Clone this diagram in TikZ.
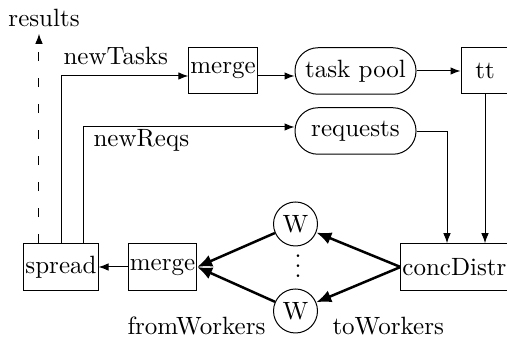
\documentclass[tikz,border=0pt]{standalone}
\usetikzlibrary{arrows.meta}
\begin{document}
\begin{tikzpicture}[x=0.4pt,y=-0.4pt,
  box/.style={draw,rectangle,minimum height=18.6pt,inner xsep=0.6pt,inner ysep=0pt},
  store/.style={draw,rectangle,rounded corners=9.2pt,minimum width=48.4pt,minimum height=18.6pt},
  worker/.style={draw,circle,minimum size=17.6pt,inner sep=0pt},
  lbl/.style={anchor=base west,inner sep=0pt},
  flow/.style={-{Latex[length=4pt,width=3pt]}},
  wflow/.style={line width=1pt,-{Latex[length=6pt,width=5pt]}},
  fanout/.style={dash pattern=on 3.6pt off 6.8pt},
]
\useasboundingbox (0,0) rectangle (507,338);

% processes and stores
\node[box] (spread) at (61,267) {spread};
\node[box] (mergeB) at (162.5,267) {merge};
\node[box] (mergeT) at (223,70.5) {merge};
\node[store] (pool) at (355.5,71) {task pool};
\node[store] (requests) at (355.5,131) {requests};
\node[box,minimum width=19.2pt] (tt) at (485,70.5) {tt};
\node[box] (concDistr) at (454.5,267) {concDistr};
\node[worker] (wTop) at (295.5,224) {W};
\node[worker] (wBot) at (295.5,311) {W};
\node[inner sep=0pt] (dots) at (298,266)
  {\vbox{\baselineskip4pt\lineskiplimit0pt\hbox{.}\hbox{.}\hbox{.}}};
\node[lbl,inner ysep=2.4pt] (results) at (8,27) {results};

% labels
\node[lbl] (lTasks) at (63,65) {newTasks};
\node[lbl] (lReqs) at (93,147) {newReqs};
\node[lbl] (lFrom) at (127,335) {fromWorkers};
\node[lbl] (lTo) at (332,335) {toWorkers};

% connectors
\draw[flow,fanout] ([xshift=-8.8pt]spread.north) -- ([xshift=-8.8pt]spread.north |- results.south);
\draw[flow] (spread.north) |- ([yshift=-2.2pt]mergeT.west);
\draw[flow] ([xshift=8.8pt]spread.north) |- ([yshift=1.6pt]requests.west);
\draw[flow] ([yshift=-2.2pt]mergeT.east) -- ([yshift=-2.2pt]mergeT.east -| pool.west);
\draw[flow] (pool.east) -- (pool.east -| tt.west);
\draw[flow] ([yshift=-0.4pt]requests.east) -| ([xshift=-3pt]concDistr.north);
\draw[flow] (tt.south) -- (tt.south |- concDistr.north);
\draw[wflow] (concDistr.west) -- (wTop);
\draw[wflow] (concDistr.west) -- (wBot);
\draw[wflow] (wTop) -- (mergeB.east);
\draw[wflow] (wBot) -- (mergeB.east);
\draw[flow] (mergeB.west) -- (spread.east);
\end{tikzpicture}
\end{document}
